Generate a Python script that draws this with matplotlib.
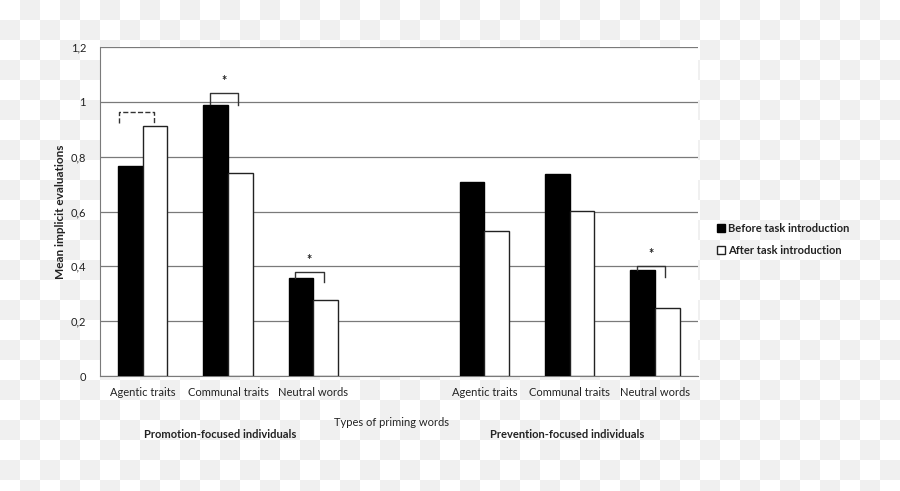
import numpy as np
import matplotlib
matplotlib.use("Agg")
from matplotlib import pyplot as plt

plt.rcParams['font.family'] = ['Lato', 'DejaVu Sans']

# 7 slots, slot 3 is the empty gap between the two groups
slots = [0, 1, 2, 4, 5, 6]
tick_labels = ["Agentic traits", "Communal traits", "Neutral words",
               "Agentic traits", "Communal traits", "Neutral words"]
before = [0.766, 0.987, 0.356, 0.706, 0.737, 0.387]
after = [0.911, 0.739, 0.277, 0.530, 0.601, 0.248]
series_names = ["Before task introduction", "After task introduction"]
group_names = ["Promotion-focused individuals", "Prevention-focused individuals"]
yticks = [0, 0.2, 0.4, 0.6, 0.8, 1.0, 1.2]
ytick_labels = ["0", "0,2", "0,4", "0,6", "0,8", "1", "1,2"]

fig = plt.figure(figsize=(9, 4.91), dpi=100)

# transparency checkerboard behind everything
h, w = 491, 900
yy, xx = np.mgrid[0:h, 0:w]
checker = ((xx // 20 + yy // 20) % 2).astype(float)
checker = np.where(checker == 1, 0.94, 1.0)
fig.figimage(checker, 0, 0, cmap='gray', vmin=0, vmax=1, origin='upper', zorder=-10)

ax = fig.add_axes([0.111, 0.2342, 0.6644, 0.670])
ax.set_zorder(1)
ax.set_facecolor('white')

bw = 0.29
x = np.array(slots)
ax.bar(x - bw / 2, before, bw, color='black', edgecolor='black', linewidth=1,
       label=series_names[0], zorder=3)
ax.bar(x + bw / 2, after, bw, color='white', edgecolor='#222222', linewidth=1,
       label=series_names[1], zorder=3)

ax.set_xlim(-0.5, 6.5)
ax.set_ylim(0, 1.2)
ax.set_yticks(yticks)
ax.set_yticklabels(ytick_labels, fontsize=8, color='#222222')
ax.set_xticks(slots)
ax.set_xticklabels(tick_labels, fontsize=8, color='#222222')
ax.tick_params(axis='both', length=0, pad=10)
ax.tick_params(axis='x', pad=8)
ax.grid(axis='y', color='#7a7a7a', linewidth=0.9, zorder=0)
for s in ['top', 'right']:
    ax.spines[s].set_visible(False)
ax.spines['left'].set_color('#7a7a7a')
ax.spines['bottom'].set_color('#7a7a7a')

ax.set_ylabel("Mean implicit evaluations", fontsize=8.5, fontweight='bold',
              color='#222222', labelpad=3)

fig.text(392 / 900, 1 - 422 / 491, "Types of priming words", fontsize=8,
         ha='center', va='center', color='#222222')
fig.text(220 / 900, 1 - 435 / 491, group_names[0], fontsize=8, fontweight='bold',
         ha='center', va='center', color='#222222')
fig.text(567 / 900, 1 - 435 / 491, group_names[1], fontsize=8, fontweight='bold',
         ha='center', va='center', color='#222222')

# significance brackets: (slot, top, left leg end, right leg end, style, star)
brackets = [(0, 0.964, 0.923, 0.923, '--', False),
            (1, 1.033, 0.992, 0.988, '-', True),
            (2, 0.380, 0.356, 0.344, '-', True),
            (6, 0.401, 0.387, 0.362, '-', True)]
for s, top, lend, rend, ls, star in brackets:
    x0 = s - 0.28 if ls == '--' else s - bw / 2 - 0.07
    x1 = s + 0.13 if ls == '--' else s + 0.12
    ax.plot([x0, x0, x1, x1], [lend, top, top, rend], color='#333333',
            linewidth=1, linestyle=ls, zorder=4, clip_on=False)
    if star:
        ax.text((x0 + x1) / 2, top + 0.022, "*", fontsize=9, fontweight='bold',
                ha='center', va='bottom', color='#222222')

leg = fig.legend(loc='upper left', bbox_to_anchor=(707 / 900, 1 - 213 / 491),
                 frameon=False, fontsize=8, handlelength=0.7, handleheight=0.7,
                 handletextpad=0.3, labelspacing=1.0)
for t in leg.get_texts():
    t.set_fontweight('bold')
    t.set_color('#222222')

fig.savefig("out.png", dpi=100)
